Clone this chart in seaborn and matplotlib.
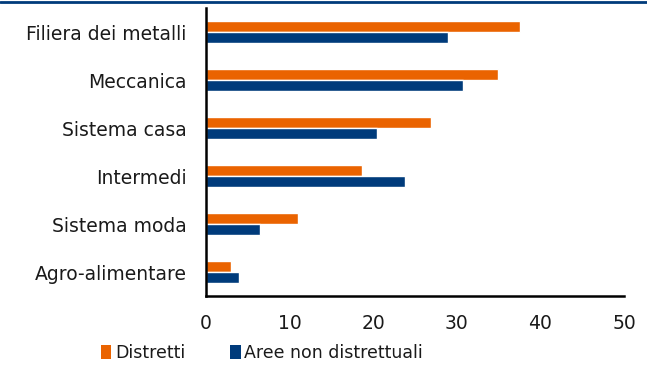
import numpy as np
import pandas as pd
import matplotlib
matplotlib.use("Agg")
import matplotlib.pyplot as plt
import seaborn as sns
from matplotlib.lines import Line2D
from matplotlib.patches import Patch

# dati
categorie = ["Filiera dei metalli", "Meccanica", "Sistema casa",
             "Intermedi", "Sistema moda", "Agro-alimentare"]
distretti = [37.5, 34.9, 26.9, 18.7, 11.0, 3.0]
aree_non_distr = [29.0, 30.8, 20.5, 23.8, 6.5, 3.9]
serie = ["Distretti", "Aree non distrettuali"]
colori = ["#EA6300", "#003B7B"]

df = pd.DataFrame({
    "settore": categorie * 2,
    "valore": distretti + aree_non_distr,
    "serie": [serie[0]] * len(categorie) + [serie[1]] * len(categorie),
})

sns.set_style("white")
plt.rcParams["font.family"] = ["DejaVu Sans"]
fs = 13.5

fig = plt.figure(figsize=(6.47, 3.67), dpi=100)
ax = fig.add_axes([206 / 647, 1 - 296 / 367, 418 / 647, 288 / 367])

sns.barplot(data=df, y="settore", x="valore", hue="serie", order=categorie,
            palette=colori, width=0.46, orient="h", ax=ax, legend=False,
            saturation=1)

ax.set_xlim(0, 50)
ax.set_ylim(5.5, -0.5)
ax.set_xticks(np.arange(0, 51, 10))
ax.set_xlabel("")
ax.set_ylabel("")
for s in ["top", "right"]:
    ax.spines[s].set_visible(False)
for s in ["left", "bottom"]:
    ax.spines[s].set_linewidth(1.8)
    ax.spines[s].set_color("black")
ax.tick_params(axis="x", direction="out", length=4, width=1.5, color="black",
               labelsize=fs, pad=9)
ax.tick_params(axis="y", length=0, labelsize=fs, pad=14)
for lab in ax.get_xticklabels() + ax.get_yticklabels():
    lab.set_color("#1a1a1a")

# linea blu in alto
fig.add_artist(Line2D([0, 1], [1 - 1.5 / 367] * 2, transform=fig.transFigure,
                      color="#003B7B", linewidth=2))

handles = [Patch(facecolor=c, edgecolor="none") for c in colori]
leg = fig.legend(handles, serie, loc="center", bbox_to_anchor=(262 / 647, 1 - 353 / 367),
                 ncol=2, frameon=False, fontsize=12.5, handlelength=0.6,
                 handleheight=0.8, handletextpad=0.2, columnspacing=2.6,
                 borderpad=0)
for t in leg.get_texts():
    t.set_color("#1a1a1a")

fig.savefig("out.png", dpi=100)
